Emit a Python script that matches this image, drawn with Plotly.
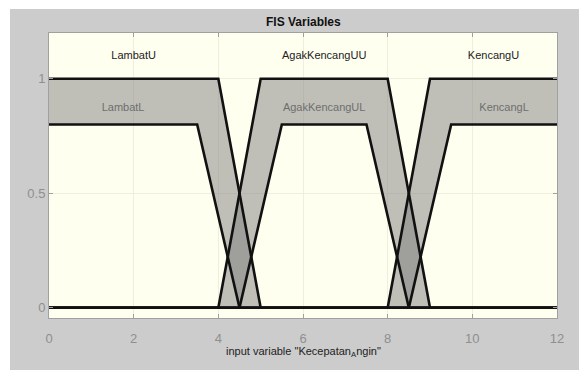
import plotly.graph_objects as go

# Type-2 trapezoidal membership functions (upper / lower), input range 0..12
mf_names_upper = ["LambatU", "AgakKencangUU", "KencangU"]
mf_names_lower = ["LambatL", "AgakKencangUL", "KencangL"]
upper_params = [[0, 0, 4, 5], [4, 5, 8, 9], [8, 9, 12, 12]]
lower_params = [[0, 0, 3.5, 4.5], [4.5, 5.5, 7.5, 8.5], [8.5, 9.5, 12, 12]]
upper_scale = [1.0, 1.0, 1.0]
lower_scale = [0.8, 0.8, 0.8]
x_range = [0, 12]
x_ticks = [0, 2, 4, 6, 8, 10, 12]
y_ticks = [0, 0.5, 1]
y_tick_labels = ["0", "0.5", "1"]


def trap_path(p, h):
    a, b, c, d = p
    xs, ys = [], []
    if a > x_range[0]:
        xs.append(x_range[0]); ys.append(0)
    xs.append(a); ys.append(0 if a < b else h)
    xs.append(b); ys.append(h)
    xs.append(c); ys.append(h)
    xs.append(d); ys.append(0 if c < d else h)
    if d < x_range[1]:
        xs.append(x_range[1]); ys.append(0)
    return xs, ys


fig = go.Figure()

# footprint of uncertainty fills
for up, us, lp, ls in zip(upper_params, upper_scale, lower_params, lower_scale):
    ux, uy = trap_path(up, us)
    lx, ly = trap_path(lp, ls)
    fig.add_trace(go.Scatter(
        x=ux + lx[::-1], y=uy + ly[::-1], mode="lines", fill="toself",
        fillcolor="rgba(128,128,128,0.5)", line=dict(width=0),
        hoverinfo="skip", showlegend=False))

# MF outlines
for up, us, lp, ls in zip(upper_params, upper_scale, lower_params, lower_scale):
    for p, h in ((up, us), (lp, ls)):
        x, y = trap_path(p, h)
        fig.add_trace(go.Scatter(x=x, y=y, mode="lines",
                                 line=dict(color="#111111", width=2.6),
                                 showlegend=False, hoverinfo="skip"))

# labels
fig.add_trace(go.Scatter(
    x=[(p[1] + p[2]) / 2 for p in upper_params],
    y=[s + 0.1 for s in upper_scale],
    text=mf_names_upper, mode="text",
    textfont=dict(family="Liberation Sans, Arial", size=11, color="#222222"),
    showlegend=False, hoverinfo="skip"))
fig.add_trace(go.Scatter(
    x=[(p[1] + p[2]) / 2 for p in lower_params],
    y=[s + 0.072 for s in lower_scale],
    text=mf_names_lower, mode="text",
    textfont=dict(family="Liberation Sans, Arial", size=11, color="#6e6e6e"),
    showlegend=False, hoverinfo="skip"))

L, R, T, B = 49, 22, 33, 52
W, H = 579, 370
pw, ph = W - L - R, H - T - B

fig.update_layout(
    width=W, height=H,
    margin=dict(l=L, r=R, t=T, b=B),
    paper_bgcolor="white",
    plot_bgcolor="#fffff0",
    font=dict(family="Liberation Sans, Arial"),
    shapes=[
        dict(type="rect", xref="paper", yref="paper",
             x0=(10 - L) / pw, x1=(W - L) / pw,
             y0=-(B + 2) / ph, y1=1 + (T - 9) / ph,
             fillcolor="#cccccc", line=dict(width=0), layer="below"),
        dict(type="rect", xref="paper", yref="paper", x0=0, x1=1, y0=0, y1=1,
             fillcolor="#fffff0", line=dict(width=0), layer="below"),
    ],
    annotations=[
        dict(text="<b>FIS Variables</b>", xref="paper", yref="paper",
             x=0.5, y=1 + (T - 22) / ph, showarrow=False, yanchor="middle",
             font=dict(size=12, color="#111111")),
        dict(text='input variable "Kecepatan<sub>A</sub>ngin"', xref="paper",
             yref="paper", x=0.5, y=-(352 - (H - B)) / ph, showarrow=False,
             yanchor="middle", font=dict(size=11, color="#222222")),
    ],
)
fig.update_xaxes(range=x_range, tickvals=x_ticks, showgrid=True,
                 gridcolor="#efefdf", gridwidth=1, zeroline=False,
                 showline=True, linecolor="#a0a0a0", linewidth=1, mirror="ticks",
                 ticks="inside", ticklen=4, tickcolor="#a0a0a0",
                 ticklabelstandoff=8,
                 tickfont=dict(size=13, color="#8f8f8f"))
fig.update_yaxes(range=[-0.045, 1.2], tickvals=y_ticks, ticktext=y_tick_labels,
                 showgrid=True, gridcolor="#efefdf", gridwidth=1, zeroline=False,
                 showline=True, linecolor="#a0a0a0", linewidth=1, mirror="ticks",
                 ticks="inside", ticklen=4, tickcolor="#a0a0a0",
                 tickfont=dict(size=13, color="#8f8f8f"))

fig.write_html("out.html",
               config={"displayModeBar": False},
               post_script="document.body.style.margin='0px';"
                           "document.body.style.overflow='hidden';")
